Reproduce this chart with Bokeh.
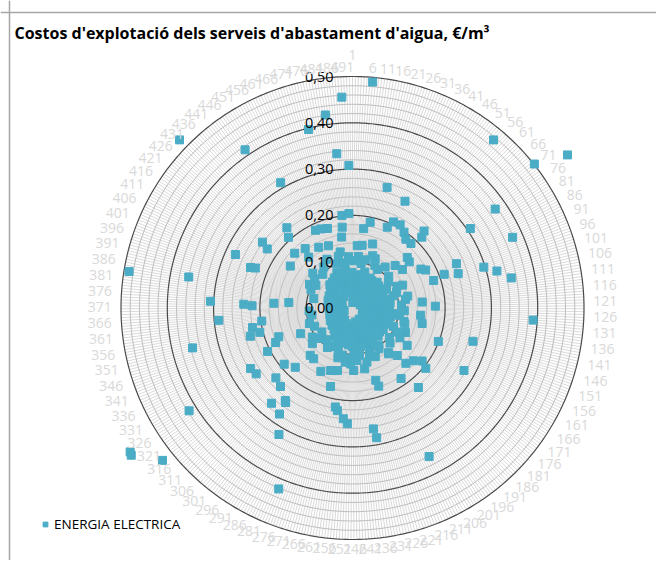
import math
from bokeh.plotting import figure
from bokeh.models import Range1d, Span, Label, Legend, LegendItem
from bokeh.embed import file_html
from bokeh.resources import INLINE
from bokeh.core.properties import value

title_text = "Costos d'explotació dels serveis d'abastament d'aigua, €/m³"
series_name = "ENERGIA ELECTRICA"

# values per category (categories 1..495), €/m3
energia = [
    0.062, 0.031, 0.102, 0.045, 0.012, 0.067, 0.135, 0.490, 0.054, 0.112,
    0.028, 0.173, 0.137, 0.071, 0.040, 0.098, 0.189, 0.058, 0.019, 0.074,
    0.047, 0.108, 0.271, 0.036, 0.145, 0.065, 0.082, 0.024, 0.056, 0.121,
    0.043, 0.068, 0.190, 0.015, 0.117, 0.206, 0.257, 0.052, 0.104, 0.033,
    0.061, 0.207, 0.075, 0.027, 0.048, 0.099, 0.066, 0.198, 0.039, 0.072,
    0.058, 0.021, 0.188, 0.113, 0.044, 0.474, 0.063, 0.035, 0.188, 0.227,
    0.077, 0.214, 0.130, 0.052, 0.069, 0.161, 0.030, 0.104, 0.047, 0.074,
    0.158, 0.501, 0.136, 0.059, 0.096, 0.570, 0.375, 0.307, 0.041, 0.066,
    0.078, 0.025, 0.053, 0.170, 0.084, 0.037, 0.178, 0.062, 0.107, 0.046,
    0.119, 0.378, 0.244, 0.056, 0.018, 0.069, 0.211, 0.101, 0.185, 0.240,
    0.297, 0.093, 0.042, 0.075, 0.322, 0.060, 0.031, 0.122, 0.054, 0.349,
    0.072, 0.116, 0.066, 0.082, 0.039, 0.057, 0.076, 0.151, 0.048, 0.106,
    0.064, 0.027, 0.179, 0.071, 0.053, 0.080, 0.044, 0.068, 0.112, 0.391,
    0.059, 0.034, 0.148, 0.074, 0.094, 0.051, 0.103, 0.063, 0.022, 0.077,
    0.045, 0.154, 0.084, 0.068, 0.115, 0.270, 0.056, 0.118, 0.038, 0.072,
    0.064, 0.049, 0.083, 0.199, 0.029, 0.075, 0.061, 0.097, 0.126, 0.052,
    0.079, 0.043, 0.068, 0.109, 0.276, 0.035, 0.073, 0.057, 0.121, 0.048,
    0.066, 0.143, 0.081, 0.026, 0.070, 0.189, 0.059, 0.102, 0.205, 0.046,
    0.174, 0.078, 0.063, 0.111, 0.037, 0.071, 0.054, 0.166, 0.141, 0.082,
    0.045, 0.076, 0.061, 0.223, 0.124, 0.126, 0.033, 0.072, 0.058, 0.098,
    0.185, 0.067, 0.105, 0.049, 0.079, 0.028, 0.086, 0.062, 0.074, 0.041,
    0.361, 0.083, 0.056, 0.116, 0.068, 0.035, 0.077, 0.099, 0.052, 0.071,
    0.108, 0.064, 0.178, 0.164, 0.044, 0.082, 0.069, 0.121, 0.057, 0.076,
    0.031, 0.085, 0.134, 0.285, 0.265, 0.063, 0.103, 0.072, 0.048, 0.081,
    0.066, 0.114, 0.054, 0.078, 0.039, 0.100, 0.135, 0.070, 0.083, 0.059,
    0.121, 0.250, 0.074, 0.109, 0.240, 0.046, 0.080, 0.067, 0.118, 0.224,
    0.053, 0.217, 0.077, 0.062, 0.104, 0.041, 0.139, 0.073, 0.058, 0.176,
    0.112, 0.047, 0.069, 0.097, 0.143, 0.055, 0.074, 0.036, 0.422, 0.066,
    0.079, 0.051, 0.092, 0.043, 0.153, 0.062, 0.075, 0.038, 0.068, 0.316,
    0.057, 0.072, 0.101, 0.064, 0.031, 0.278, 0.250, 0.247, 0.059, 0.138,
    0.052, 0.088, 0.040, 0.270, 0.061, 0.137, 0.230, 0.048, 0.178, 0.056,
    0.033, 0.095, 0.050, 0.224, 0.116, 0.044, 0.058, 0.191, 0.526, 0.084,
    0.049, 0.037, 0.107, 0.045, 0.252, 0.574, 0.572, 0.417, 0.053, 0.256,
    0.041, 0.055, 0.029, 0.048, 0.206, 0.125, 0.091, 0.036, 0.182, 0.047,
    0.024, 0.050, 0.171, 0.039, 0.099, 0.031, 0.046, 0.019, 0.051, 0.042,
    0.229, 0.207, 0.356, 0.035, 0.048, 0.027, 0.220, 0.044, 0.089, 0.030,
    0.198, 0.045, 0.022, 0.049, 0.290, 0.038, 0.094, 0.033, 0.047, 0.026,
    0.043, 0.050, 0.035, 0.217, 0.235, 0.307, 0.170, 0.041, 0.138, 0.048,
    0.029, 0.052, 0.037, 0.046, 0.489, 0.023, 0.360, 0.049, 0.034, 0.044,
    0.086, 0.028, 0.047, 0.039, 0.055, 0.032, 0.050, 0.041, 0.025, 0.054,
    0.046, 0.237, 0.227, 0.036, 0.098, 0.278, 0.043, 0.051, 0.030, 0.057,
    0.048, 0.106, 0.035, 0.054, 0.044, 0.093, 0.027, 0.052, 0.162, 0.224,
    0.058, 0.241, 0.039, 0.103, 0.047, 0.061, 0.033, 0.056, 0.114, 0.042,
    0.063, 0.172, 0.521, 0.050, 0.070, 0.037, 0.059, 0.206, 0.097, 0.145,
    0.045, 0.224, 0.164, 0.071, 0.031, 0.064, 0.053, 0.108, 0.413, 0.048,
    0.067, 0.057, 0.076, 0.040, 0.312, 0.150, 0.069, 0.119, 0.055, 0.074,
    0.186, 0.062, 0.083, 0.046, 0.078, 0.184, 0.144, 0.058, 0.101, 0.071,
    0.037, 0.180, 0.079, 0.065, 0.116, 0.052, 0.397, 0.075, 0.124, 0.060,
    0.083, 0.044, 0.099, 0.155, 0.421, 0.176, 0.201, 0.335, 0.069, 0.111,
    0.056, 0.456, 0.204, 0.308, 0.077,
]
categories = [str(i + 1) for i in range(len(energia))]
label_every = 5

value_ticks = [0.0, 0.1, 0.2, 0.3, 0.4, 0.5]
value_tick_labels = ["0,00", "0,10", "0,20", "0,30", "0,40", "0,50"]
minor_step = 0.02
r_max = 0.5

# ---- layout (pixels) ----
W, H = 656, 560
PX = 463.0                 # pixels per unit of value
CX, CY = 352.0, 307.5      # centre of radar within the figure (from top-left)
x_start = -CX / PX
x_end = (W - CX) / PX
y_end = CY / PX
y_start = -(H - CY) / PX

p = figure(width=W, height=H, x_range=Range1d(x_start, x_end),
           y_range=Range1d(y_start, y_end), output_backend="svg",
           toolbar_location=None, min_border=0,
           x_axis_location=None, y_axis_location=None)
p.grid.visible = False
p.outline_line_color = None
p.background_fill_color = "white"
p.border_fill_color = "white"

N = len(categories)
thetas = [2 * math.pi * i / N for i in range(N)]
sins = [math.sin(t) for t in thetas]
coss = [math.cos(t) for t in thetas]

# spokes (category gridlines)
p.segment(x0=[0] * N, y0=[0] * N,
          x1=[r_max * s for s in sins], y1=[r_max * c for c in coss],
          line_color="#dadada", line_width=1)

# rings
n_minor = int(round(r_max / minor_step))
minor_vals = [minor_step * i for i in range(1, n_minor + 1)]
minor_vals = [g for g in minor_vals if abs(g / 0.1 - round(g / 0.1)) > 1e-6]
major_vals = [g for g in value_ticks if g > 0]

def ring(g):
    return ([g * s for s in sins] + [0.0]), ([g * c for c in coss] + [g])

mx, my = zip(*[ring(g) for g in minor_vals])
p.multi_line(list(mx), list(my), line_color="#bdbdbd", line_width=1)
Mx, My = zip(*[ring(g) for g in major_vals])
p.multi_line(list(Mx), list(My), line_color="#4a4a4a", line_width=1.2)

# data points
px_ = [v * s for v, s in zip(energia, sins)]
py_ = [v * c for v, c in zip(energia, coss)]
pts = p.scatter(px_, py_, marker="square", size=8, fill_color="#4BACC6",
                line_color="#4BACC6")

# value axis labels
p.text(x=[0] * len(value_ticks), y=value_ticks, text=value_tick_labels,
       x_offset=-19, text_align="right", text_baseline="middle",
       text_font=value("Open Sans"), text_font_size="14.5px", text_color="#000000")

# category labels
lx, ly, lt = [], [], []
for i in range(0, N, label_every):
    k = categories[i]
    t = thetas[i] + (math.radians(1.2) if i > 0 else 0)
    s, c = math.sin(t), math.cos(t)
    w = 8.2 * len(k)
    h = 12.0
    pad = 9 - 6 * c * c
    d = r_max * PX + pad + abs(s) * w / 2 + abs(c) * h / 2
    if i == 0:
        d += 13
    lx.append(d * s / PX)
    ly.append(d * c / PX)
    lt.append(k)
p.text(x=lx, y=ly, text=lt, text_align="center", text_baseline="middle",
       text_font=value("Open Sans"), text_font_size="14px", text_color="#d9d9d9")

# chart border (left and top)
p.add_layout(Span(location=(9 - CX) / PX, dimension="height",
                  line_color="#a6a6a6", line_width=1.5))
p.add_layout(Span(location=(CY - 12) / PX, dimension="width",
                  line_color="#a6a6a6", line_width=1.5))

# title
p.add_layout(Label(x=14, y=H - 32, x_units="screen", y_units="screen",
                   text=title_text, text_font="Open Sans", text_font_style="bold",
                   text_font_size="16px", text_baseline="middle", text_color="#000000"))

# legend
legend = Legend(items=[LegendItem(label=series_name, renderers=[pts])],
                location=(39, H - 533), orientation="vertical",
                background_fill_alpha=0, border_line_color=None,
                padding=0, margin=0, glyph_width=12, glyph_height=12,
                label_standoff=3, label_text_font="Open Sans",
                label_text_font_size="13.5px", label_text_color="#000000")
p.add_layout(legend, "center")

open("out.html", "w").write(file_html(p, INLINE))
